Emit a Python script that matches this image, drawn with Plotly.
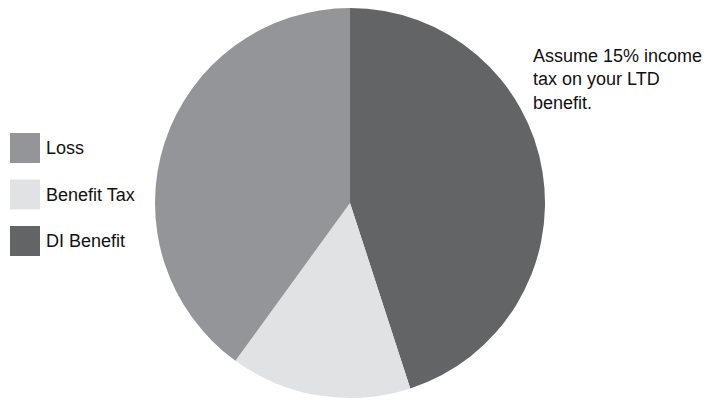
import plotly.graph_objects as go

W, H = 717, 401

# Slices, clockwise from 12 o'clock
labels = ["DI Benefit", "Benefit Tax", "Loss"]
values = [45, 15, 40]
colors = ["#636466", "#e1e2e3", "#939598"]

# Legend order (top to bottom)
legend_labels = ["Loss", "Benefit Tax", "DI Benefit"]

note = "Assume 15% income<br>tax on your LTD<br>benefit."

FONT = "Liberation Sans, Arial, Helvetica, sans-serif"
FSIZE = 18


def px(x):
    return x / W


def py(y):
    return 1 - y / H


cx, cy, r = 350, 203, 195

fig = go.Figure(
    go.Pie(
        labels=labels,
        values=values,
        marker=dict(colors=colors, line=dict(width=0)),
        sort=False,
        direction="clockwise",
        rotation=0,
        textinfo="none",
        hoverinfo="label+percent",
        showlegend=False,
        domain=dict(x=[px(cx - r), px(cx + r)], y=[py(cy + r), py(cy - r)]),
    )
)

color_of = dict(zip(labels, colors))
shapes = []
annotations = []
sw, top0, step = 30, 133, 46.5
for i, name in enumerate(legend_labels):
    y0 = top0 + i * step
    shapes.append(
        dict(
            type="rect", xref="paper", yref="paper",
            x0=px(10), x1=px(10 + sw), y0=py(y0 + sw), y1=py(y0),
            fillcolor=color_of[name], line=dict(width=0),
        )
    )
    annotations.append(
        dict(
            text=name, xref="paper", yref="paper",
            x=px(44), y=py(y0 + sw / 2), xanchor="left", yanchor="middle",
            showarrow=False, font=dict(family=FONT, size=FSIZE, color="#111111"),
        )
    )

annotations.append(
    dict(
        text=note, xref="paper", yref="paper", align="left",
        x=px(531), y=py(44), xanchor="left", yanchor="top",
        showarrow=False, font=dict(family=FONT, size=FSIZE, color="#111111"),
    )
)

fig.update_layout(
    width=W, height=H,
    margin=dict(l=0, r=0, t=0, b=0),
    paper_bgcolor="white", plot_bgcolor="white",
    shapes=shapes, annotations=annotations,
)

fig.write_html("out.html")
